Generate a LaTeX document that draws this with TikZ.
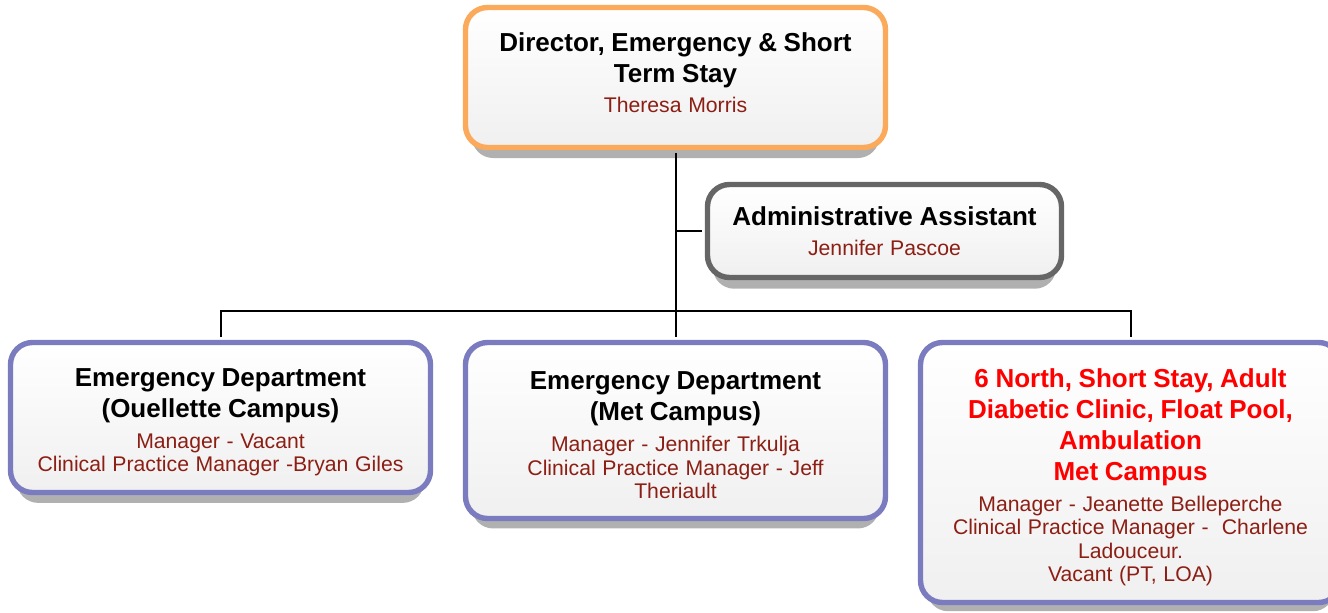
\documentclass[tikz,border=0pt]{standalone}
\usepackage{fontspec}
\setmainfont{Liberation Sans}
\usepackage{xcolor}
\usepackage{tikz}
\usetikzlibrary{positioning,shadows}

\definecolor{dirorange}{RGB}{250,170,90}
\definecolor{mgrblue}{RGB}{123,123,192}
\definecolor{asstgray}{RGB}{102,102,102}
\definecolor{namered}{RGB}{140,30,20}
\definecolor{shadowgray}{RGB}{176,176,176}

\newcommand{\boxtitle}[2][black]{{\fontsize{13}{15.5}\selectfont\bfseries\color{#1}#2\par}}
\newcommand{\boxname}[1]{\vspace{3.5pt}{\fontsize{10.6}{11.8}\selectfont\color{namered}#1\par}}

\tikzset{
  orgbox/.style={rectangle, rounded corners=11pt, line width=2.7pt,
    top color=white, bottom color=gray!12, align=center, inner sep=0pt,
    minimum width=210pt, text width=200pt,
    general shadow={fill=shadowgray, shadow yshift=-6.5pt, shadow scale=0.97}},
  dirbox/.style={orgbox, draw=dirorange},
  mgrbox/.style={orgbox, draw=mgrblue},
  asstbox/.style={orgbox, draw=asstgray, minimum width=177pt, text width=170pt},
  link/.style={line width=1pt, black, shorten >=1.35pt, shorten <=1.35pt}
}

\begin{document}
\begin{tikzpicture}[x=0.5pt, y=-0.5pt]
  \useasboundingbox (0,0) rectangle (1328,612);

  % boxes
  \node[dirbox, minimum height=70pt] (dir) at (675.5,77.5)
    {\boxtitle{Director, Emergency \& Short\\Term Stay}\boxname{Theresa Morris}\kern5pt};
  \node[asstbox, minimum height=46.5pt] (admin) at (884.5,231)
    {\boxtitle{Administrative Assistant}\boxname{Jennifer Pascoe}};
  \node[mgrbox, minimum height=75pt] (edoue) at (220.5,417.5)
    {\boxtitle{Emergency Department\\(Ouellette Campus)}%
     \boxname{Manager - Vacant\\Clinical Practice Manager -Bryan Giles}\kern-5pt};
  \node[mgrbox, minimum height=88pt] (edmet) at (675.5,430.5)
    {\boxtitle{Emergency Department\\(Met Campus)}%
     \boxname{Manager - Jennifer Trkulja\\Clinical Practice Manager - Jeff\\Theriault}\kern-5pt};
  \node[mgrbox, minimum height=130pt] (six) at (1130.5,472.5)
    {\boxtitle[red]{6 North, Short Stay, Adult\\Diabetic Clinic, Float Pool,\\Ambulation\\Met Campus}%
     \boxname{Manager - Jeanette Belleperche\\Clinical Practice Manager -\ \ Charlene\\Ladouceur.\\Vacant (PT, LOA)}\kern-5pt};

  % connectors
  \coordinate (bus) at (675.5,311);
  \draw[link] (dir.south) -- (edmet.north);
  \draw[link] (edoue.north) |- (bus) -| (six.north);
  \draw[link, shorten <=0pt] (dir.south |- admin.west) -- (admin.west);
\end{tikzpicture}
\end{document}
